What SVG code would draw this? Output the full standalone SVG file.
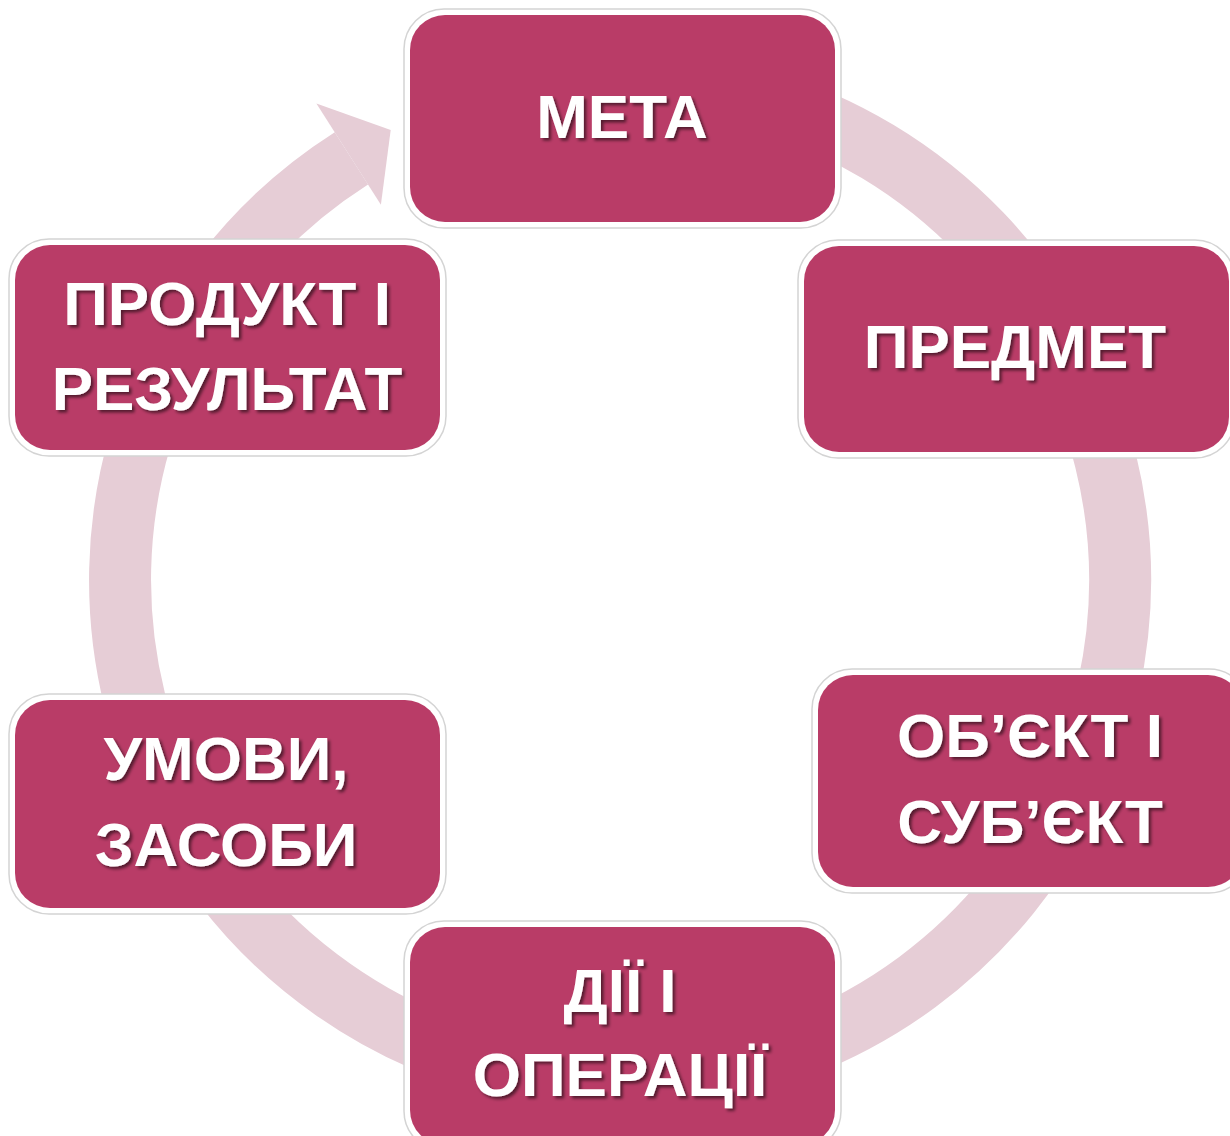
<svg xmlns="http://www.w3.org/2000/svg" width="1230" height="1136" viewBox="0 0 1230 1136">
<defs>
<style>
.ring{fill:none;stroke:#E6CDD6;stroke-width:62}
.head{fill:#E6CDD6}
.halo{fill:#ffffff;stroke:#d4d4d4;stroke-width:1.5}
.box{fill:#B93C67}
.lbl{font-family:"Liberation Sans",Arial,sans-serif;font-weight:bold;font-size:62px;fill:#ffffff;text-anchor:middle;filter:url(#sh)}
</style>
<filter id="sh" x="-10%" y="-30%" width="120%" height="160%">
<feDropShadow dx="2.5" dy="2.5" stdDeviation="1.5" flood-color="#000000" flood-opacity="0.55"/>
</filter>
</defs>
<g id="connectors">
<path class="ring" d="M533.2 87.6 A500 500 0 1 1 351.4 158.3"/>
<polygon class="head" points="316.4,103.5 390.7,130 380.9,204.7"/>
</g>
<g id="node-meta">
<rect class="halo" x="404" y="9" width="437" height="219" rx="40"/>
<rect class="box" x="410" y="15" width="425" height="207" rx="35"/>
<text class="lbl" x="622" y="138">МЕТА</text>
</g>
<g id="node-predmet">
<rect class="halo" x="798" y="240" width="437" height="218" rx="40"/>
<rect class="box" x="804" y="246" width="425" height="206" rx="35"/>
<text class="lbl" x="1015" y="368">ПРЕДМЕТ</text>
</g>
<g id="node-obyekt">
<rect class="halo" x="812" y="669" width="437" height="224" rx="40"/>
<rect class="box" x="818" y="675" width="425" height="212" rx="35"/>
<text class="lbl" x="1030" y="757">ОБ’ЄКТ І</text>
<text class="lbl" x="1030" y="843">СУБ’ЄКТ</text>
</g>
<g id="node-dii">
<rect class="halo" x="404" y="921" width="437" height="230" rx="40"/>
<rect class="box" x="410" y="927" width="425" height="218" rx="35"/>
<text class="lbl" x="620" y="1012">ДІЇ І</text>
<text class="lbl" x="620" y="1096">ОПЕРАЦІЇ</text>
</g>
<g id="node-umovy">
<rect class="halo" x="9" y="694" width="437" height="220" rx="40"/>
<rect class="box" x="15" y="700" width="425" height="208" rx="35"/>
<text class="lbl" x="226" y="780">УМОВИ,</text>
<text class="lbl" x="226" y="866">ЗАСОБИ</text>
</g>
<g id="node-produkt">
<rect class="halo" x="9" y="239" width="437" height="217" rx="40"/>
<rect class="box" x="15" y="245" width="425" height="205" rx="35"/>
<text class="lbl" x="227" y="325">ПРОДУКТ І</text>
<text class="lbl" x="227" y="410">РЕЗУЛЬТАТ</text>
</g>
</svg>
